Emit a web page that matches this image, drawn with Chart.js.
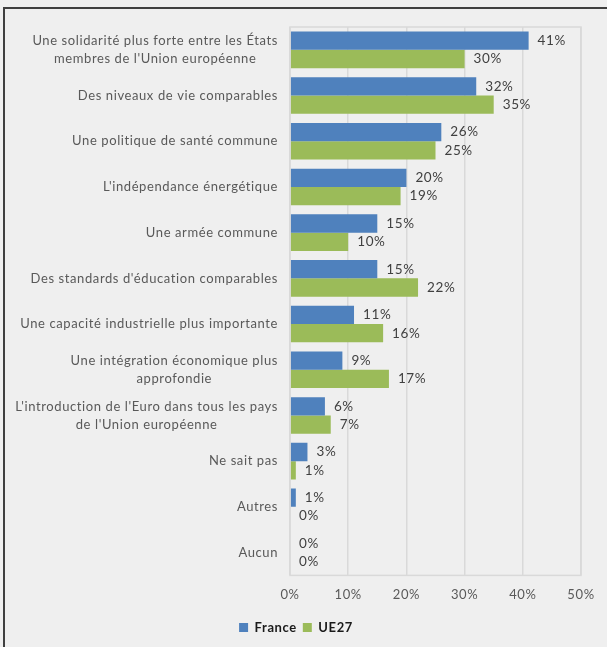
<!DOCTYPE html>
<html>
<head>
<meta charset="utf-8">
<script src="https://cdn.jsdelivr.net/npm/chart.js@4"></script>
<style>
  html, body { margin: 0; background: #efefef; }
  #frame {
    position: absolute; left: 3px; top: 7px; width: 604px; height: 640px;
    border-top: 2px solid #3f3f3f; border-left: 2px solid #3f3f3f;
  }
  canvas { display: block; }
</style>
</head>
<body>
<div id="frame"><canvas id="chart" width="602" height="638"></canvas></div>
<script>
// Priorités pour l'Europe : France vs UE27 (barres horizontales groupées).
const categories = [
  ["Une solidarité plus forte entre les États", "membres de l'Union européenne"],
  "Des niveaux de vie comparables",
  "Une politique de santé commune",
  "L'indépendance énergétique",
  "Une armée commune",
  "Des standards d'éducation comparables",
  "Une capacité industrielle plus importante",
  ["Une intégration économique plus", "approfondie"],
  ["L'introduction de l'Euro dans tous les pays", "de l'Union européenne"],
  "Ne sait pas",
  "Autres",
  "Aucun",
];
const france = [41, 32, 26, 20, 15, 15, 11, 9, 6, 3, 1, 0];
const ue27 = [30, 35, 25, 19, 10, 22, 16, 17, 7, 1, 0, 0];
const xTicks = [0, 10, 20, 30, 40, 50];

const FONT = "Lato, 'Open Sans', sans-serif";

// a bit of letter spacing to get closer to the Calibri widths
const spacing = {
  id: "spacing",
  beforeDraw(chart) { chart.ctx.letterSpacing = "0.6px"; },
};

// y labels: right-aligned block, lines centred inside it (as in Excel)
const categoryLabels = {
  id: "categoryLabels",
  afterDraw(chart) {
    const ctx = chart.ctx;
    const y = chart.scales.y;
    const right = chart.chartArea.left - 12;
    ctx.save();
    ctx.font = "13px " + FONT;
    ctx.fillStyle = "#595959";
    ctx.textBaseline = "middle";
    ctx.textAlign = "center";
    categories.forEach((c, i) => {
      const lines = Array.isArray(c) ? c : [c];
      const w = Math.max(...lines.map((l) => ctx.measureText(l).width));
      const cy = y.getPixelForTick(i);
      const lh = 18;
      lines.forEach((l, k) => {
        ctx.fillText(l, right - w / 2, cy + (k - (lines.length - 1) / 2) * lh);
      });
    });
    ctx.restore();
  },
};

// value labels after each bar + plot frame
const valueLabels = {
  id: "valueLabels",
  afterDatasetsDraw(chart) {
    const ctx = chart.ctx;
    const a = chart.chartArea;
    ctx.save();
    ctx.strokeStyle = "#d9d9d9";
    ctx.lineWidth = 1.5;
    ctx.strokeRect(a.left, a.top, a.right - a.left, a.bottom - a.top);
    ctx.font = "13.5px " + FONT;
    ctx.fillStyle = "#404040";
    ctx.textBaseline = "middle";
    ctx.textAlign = "left";
    chart.data.datasets.forEach((ds, di) => {
      chart.getDatasetMeta(di).data.forEach((bar, i) => {
        ctx.fillText(ds.data[i] + "%", bar.x + 9, bar.y);
      });
    });
    ctx.restore();
  },
};

new Chart(document.getElementById("chart"), {
  type: "bar",
  data: {
    labels: categories,
    datasets: [
      { label: "France", data: france, backgroundColor: "#4f81bd" },
      { label: "UE27", data: ue27, backgroundColor: "#9bbb59" },
    ],
  },
  options: {
    indexAxis: "y",
    responsive: false,
    animation: false,
    layout: { padding: { top: 18, right: 26, bottom: 3 } },
    datasets: { bar: { categoryPercentage: 0.8, barPercentage: 1 } },
    scales: {
      x: {
        min: 0,
        max: 50,
        afterBuildTicks: (s) => { s.ticks = xTicks.map((v) => ({ value: v })); },
        ticks: {
          callback: (v) => v + "%",
          color: "#595959",
          font: { family: FONT, size: 13 },
          padding: 12,
        },
        grid: { color: "#d9d9d9", lineWidth: 1.5, drawTicks: false },
        border: { display: false },
      },
      y: {
        ticks: { display: false },
        grid: { display: false },
        border: { display: false },
        afterFit: (s) => { s.width = 285; },
      },
    },
    plugins: {
      legend: {
        position: "bottom",
        labels: {
          boxWidth: 9,
          boxHeight: 9,
          padding: 6,
          color: "#1a1a1a",
          font: { family: FONT, size: 13, weight: "bold" },
        },
      },
      tooltip: { enabled: false },
    },
  },
  plugins: [spacing, categoryLabels, valueLabels],
});
</script>
</body>
</html>
